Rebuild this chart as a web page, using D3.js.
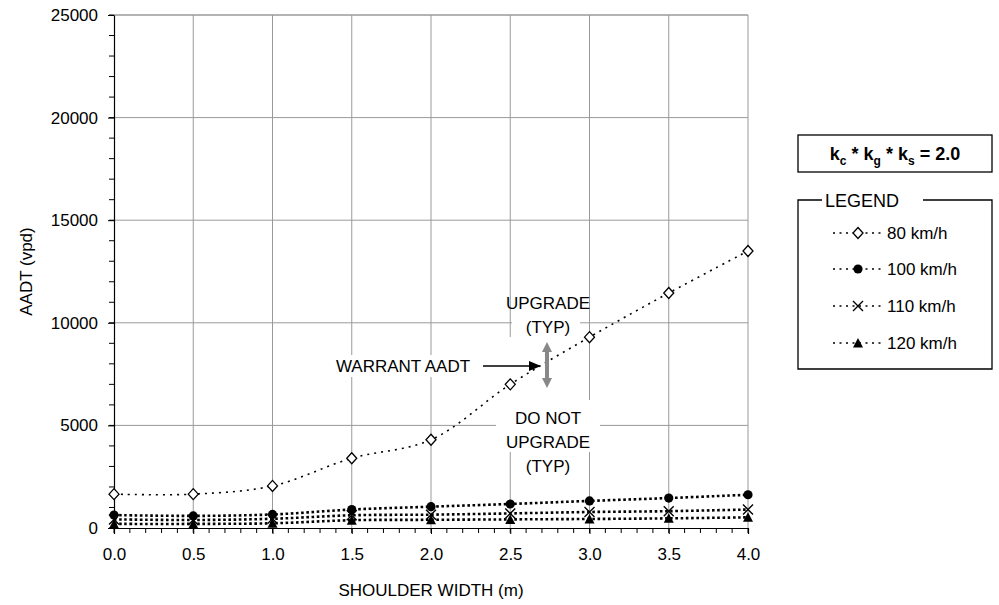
<!DOCTYPE html>
<html><head><meta charset="utf-8">
<script src="https://cdn.jsdelivr.net/npm/d3@7"></script>
<style>
body{margin:0;background:#fff;}
svg{display:block;font-family:"Liberation Sans",Arial,sans-serif;}
</style></head>
<body><svg id="c" width="999" height="605"></svg>
<script>
// ---- data ----
const shoulderWidths = [0, 0.5, 1.0, 1.5, 2.0, 2.5, 3.0, 3.5, 4.0];
const speed80  = [1650, 1650, 2050, 3400, 4300, 7000, 9300, 11450, 13500];
const speed100 = [630, 590, 660, 900, 1040, 1170, 1320, 1460, 1620];
const speed110 = [420, 390, 450, 620, 650, 710, 780, 820, 900];
const speed120 = [200, 200, 230, 380, 400, 420, 440, 470, 520];
const seriesNames = ["80 km/h", "100 km/h", "110 km/h", "120 km/h"];
const yTicks = [0, 5000, 10000, 15000, 20000, 25000];
const xTicks = [0, 0.5, 1.0, 1.5, 2.0, 2.5, 3.0, 3.5, 4.0];

const series = [
  {name: seriesNames[0], values: speed80,  marker: "diamond"},
  {name: seriesNames[1], values: speed100, marker: "circle"},
  {name: seriesNames[2], values: speed110, marker: "cross"},
  {name: seriesNames[3], values: speed120, marker: "triangle"}
];

const svg = d3.select("#c");
const L = 114, R = 748, T = 15, B = 528;
const x = d3.scaleLinear().domain([0, 4]).range([L, R]);
const y = d3.scaleLinear().domain([0, 25000]).range([B, T]);
const grid = "#9a9a9a";

// grid
svg.append("g").selectAll("line").data(xTicks.filter(d => d > 0)).join("line")
  .attr("x1", d => x(d)).attr("x2", d => x(d)).attr("y1", T).attr("y2", B)
  .attr("stroke", grid).attr("stroke-width", 1);
svg.append("g").selectAll("line").data(yTicks.filter(d => d > 0)).join("line")
  .attr("x1", L).attr("x2", R).attr("y1", d => y(d)).attr("y2", d => y(d))
  .attr("stroke", grid).attr("stroke-width", 1);

// white text boxes over the grid
const boxes = svg.append("g").attr("fill", "#fff");
boxes.append("rect").attr("x", 330).attr("y", 355).attr("width", 146).attr("height", 22);
boxes.append("rect").attr("x", 512).attr("y", 290).attr("width", 68).attr("height", 47);
boxes.append("rect").attr("x", 503).attr("y", 337).attr("width", 60).attr("height", 70);
boxes.append("rect").attr("x", 496).attr("y", 400).attr("width", 104).attr("height", 52);

// axes
const yAxis = d3.axisLeft(y).tickValues(yTicks).tickSize(6).tickPadding(10).tickFormat(d3.format("d"));
const gy = svg.append("g").attr("transform", `translate(${L},0)`).call(yAxis);
const yMinor = d3.range(0, 25001, 1000);
svg.append("g").selectAll("line").data(yMinor).join("line")
  .attr("x1", L - 5).attr("x2", L).attr("y1", d => y(d)).attr("y2", d => y(d)).attr("stroke", "#000");
const xAxis = d3.axisBottom(x).tickValues(xTicks).tickSize(6).tickPadding(14).tickFormat(d3.format(".1f"));
const gx = svg.append("g").attr("transform", `translate(0,${B})`).call(xAxis);
const xMinor = d3.range(0, 41).map(i => i / 10);
svg.append("g").selectAll("line").data(xMinor).join("line")
  .attr("x1", d => x(d)).attr("x2", d => x(d)).attr("y1", B).attr("y2", B + 5).attr("stroke", "#000");
[gx, gy].forEach(g => {
  g.selectAll("text").attr("font-size", 17).attr("fill", "#000").attr("font-family", "Liberation Sans, Arial, sans-serif");
  g.select(".domain").attr("stroke", "#000").attr("stroke-width", 1.2);
});
// top border
svg.append("line").attr("x1", L).attr("x2", R).attr("y1", T).attr("y2", T).attr("stroke", grid);

// axis titles
svg.append("text").attr("x", (L + R) / 2).attr("y", 596).attr("text-anchor", "middle")
  .attr("font-size", 17).text("SHOULDER WIDTH (m)");
svg.append("text").attr("transform", `translate(32,${(T + B) / 2}) rotate(-90)`).attr("text-anchor", "middle")
  .attr("font-size", 17).text("AADT (vpd)");

// symbol drawing
function drawMarker(g, type, cx, cy) {
  if (type === "diamond") {
    g.append("path").attr("d", `M${cx},${cy-5.5}L${cx+5},${cy}L${cx},${cy+5.5}L${cx-5},${cy}Z`)
      .attr("fill", "#fff").attr("stroke", "#000").attr("stroke-width", 1.3);
  } else if (type === "circle") {
    g.append("circle").attr("cx", cx).attr("cy", cy).attr("r", 4.6).attr("fill", "#000");
  } else if (type === "cross") {
    g.append("path").attr("d", `M${cx-5},${cy-5}L${cx+5},${cy+5}M${cx-5},${cy+5}L${cx+5},${cy-5}`)
      .attr("stroke", "#000").attr("stroke-width", 1.4);
  } else {
    g.append("path").attr("d", `M${cx},${cy-5}L${cx+5},${cy+4.5}L${cx-5},${cy+4.5}Z`).attr("fill", "#000");
  }
}

// series
const line = d3.line().x((d, i) => x(shoulderWidths[i])).y(d => y(d)).curve(d3.curveCatmullRom.alpha(0.5));
const sg = svg.append("g");
series.slice().reverse().forEach(s => {
  const idx = series.indexOf(s);
  sg.append("path").attr("d", line(s.values)).attr("fill", "none").attr("stroke", "#000")
    .attr("stroke-width", idx === 0 ? 1.6 : 2.6)
    .attr("stroke-dasharray", idx === 0 ? "2,5" : "2.6,2.6");
});
series.slice().reverse().forEach(s => {
  s.values.forEach((v, i) => drawMarker(sg, s.marker, x(shoulderWidths[i]), y(v)));
});

// annotations
const ann = svg.append("g").attr("font-size", 17).attr("text-anchor", "middle");
ann.append("text").attr("x", 403).attr("y", 372).text("WARRANT AADT");
ann.append("text").attr("x", 548).attr("y", 309).text("UPGRADE");
ann.append("text").attr("x", 548).attr("y", 333).text("(TYP)");
ann.append("text").attr("x", 548).attr("y", 424).text("DO NOT");
ann.append("text").attr("x", 548).attr("y", 448).text("UPGRADE");
ann.append("text").attr("x", 548).attr("y", 472).text("(TYP)");
svg.append("line").attr("x1", 483).attr("x2", 530).attr("y1", 366).attr("y2", 366).attr("stroke", "#000").attr("stroke-width", 1.5);
svg.append("path").attr("d", "M541,366L529,361L529,371Z").attr("fill", "#000");
const ax = 547;
svg.append("line").attr("x1", ax).attr("x2", ax).attr("y1", 350).attr("y2", 380).attr("stroke", "#888").attr("stroke-width", 4);
svg.append("path").attr("d", `M${ax},342L${ax+5},352L${ax-5},352Z`).attr("fill", "#888");
svg.append("path").attr("d", `M${ax},388L${ax+5},378L${ax-5},378Z`).attr("fill", "#888");

// k box
svg.append("rect").attr("x", 798).attr("y", 135).attr("width", 194).attr("height", 37)
  .attr("fill", "#fff").attr("stroke", "#000").attr("stroke-width", 1.3);
const kt = svg.append("text").attr("x", 895).attr("y", 160).attr("text-anchor", "middle")
  .attr("font-size", 18).attr("font-weight", "bold");
kt.append("tspan").text("k");
kt.append("tspan").attr("font-size", 12).attr("dy", 5).text("c");
kt.append("tspan").attr("dy", -5).text(" * k");
kt.append("tspan").attr("font-size", 12).attr("dy", 5).text("g");
kt.append("tspan").attr("dy", -5).text(" * k");
kt.append("tspan").attr("font-size", 12).attr("dy", 5).text("s");
kt.append("tspan").attr("dy", -5).text(" = 2.0");

// legend
const lg = svg.append("g");
lg.append("path").attr("d", "M822,200H798V369H992V200H923").attr("fill", "none").attr("stroke", "#000").attr("stroke-width", 1.3);
lg.append("text").attr("x", 825).attr("y", 206.5).attr("font-size", 18).text("LEGEND");
const legY = [233, 269, 306, 343];
series.forEach((s, i) => {
  lg.append("line").attr("x1", 833).attr("x2", 883).attr("y1", legY[i]).attr("y2", legY[i])
    .attr("stroke", "#000").attr("stroke-width", 1.5).attr("stroke-dasharray", "2,4.5");
  drawMarker(lg, s.marker, 858, legY[i]);
  lg.append("text").attr("x", 887).attr("y", legY[i] + 6).attr("font-size", 17).text(s.name);
});
</script></body></html>
